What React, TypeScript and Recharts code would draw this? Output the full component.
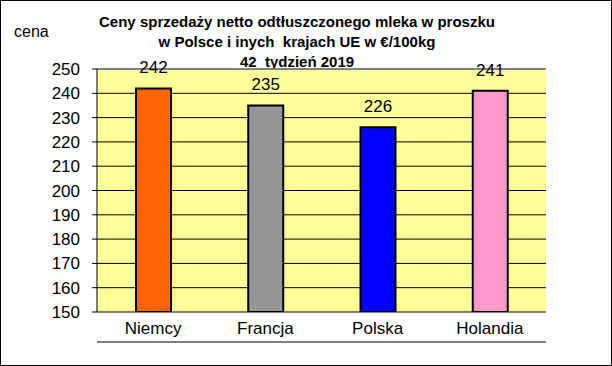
import React from 'react';
import {
    BarChart,
    Bar,
    XAxis,
    YAxis,
    CartesianGrid,
    Cell,
    LabelList,
    ReferenceLine
} from 'recharts';

const countries = ['Niemcy', 'Francja', 'Polska', 'Holandia'];
const prices = [242, 235, 226, 241];
const barColors = ['#FF6600', '#969696', '#0000FF', '#FF99CC'];
const yTicks = [150, 160, 170, 180, 190, 200, 210, 220, 230, 240, 250];
const edgeTicks = [0, 1, 2, 3, 4];

const titleLines = [
    'Ceny sprzedaży netto odtłuszczonego mleka w proszku',
    'w Polsce i inych  krajach UE w €/100kg',
    '42  tydzień 2019'
];

const data = countries.map((name, i) => ({ name, cena: prices[i] }));

const font = '"Liberation Sans", Arial, sans-serif';

export default function App() {
    return (
        <div
            style={{
                position: 'absolute',
                left: 0,
                top: 0,
                width: 612,
                height: 366,
                background: '#fff',
                border: '1px solid #000',
                boxSizing: 'border-box',
                fontFamily: font
            }}
        >
            {/* title */}
            {titleLines.map((line, i) => (
                <div
                    key={i}
                    style={{
                        position: 'absolute',
                        left: 96,
                        width: 400,
                        top: 11 + i * 20,
                        textAlign: 'center',
                        fontWeight: 'bold',
                        fontSize: 15,
                        lineHeight: '20px',
                        whiteSpace: 'pre',
                        color: '#000'
                    }}
                >
                    {line}
                </div>
            ))}
            <div style={{ position: 'absolute', left: 13, top: 22, fontSize: 16, color: '#000' }}>cena</div>

            <div style={{ position: 'absolute', left: -1, top: -1 }}>
                <BarChart
                    width={612}
                    height={366}
                    data={data}
                    margin={{ top: 69, right: 66, bottom: 18, left: 0 }}
                    barSize={35}
                >
                    <CartesianGrid vertical={false} stroke="#000" fill="#FFFF99" fillOpacity={1} />
                    <XAxis
                        xAxisId="edges"
                        type="number"
                        domain={[0, 4]}
                        ticks={edgeTicks}
                        tick={false}
                        tickSize={6}
                        height={6}
                        stroke="#000"
                        allowDataOverflow
                    />
                    <XAxis
                        dataKey="name"
                        axisLine={false}
                        tickLine={false}
                        tickSize={0}
                        tickMargin={10}
                        height={30}
                        interval={0}
                        tick={{ fill: '#000', fontSize: 17, fontFamily: font }}
                    />
                    <YAxis
                        domain={[150, 250]}
                        ticks={yTicks}
                        interval={0}
                        width={97}
                        tickSize={5}
                        tickMargin={12}
                        stroke="#000"
                        tick={{ fill: '#000', fontSize: 17, fontFamily: font }}
                        allowDataOverflow
                    />
                    <ReferenceLine y={250} stroke="#808080" strokeWidth={2} />
                    <ReferenceLine xAxisId="edges" x={4} stroke="#808080" strokeWidth={2} />
                    <Bar dataKey="cena" stroke="#000" strokeWidth={2} isAnimationActive={false}>
                        {data.map((d, i) => (
                            <Cell key={d.name} fill={barColors[i]} />
                        ))}
                        <LabelList
                            dataKey="cena"
                            position="top"
                            offset={15}
                            fill="#000"
                            fontSize={17}
                            fontFamily={font}
                        />
                    </Bar>
                </BarChart>
            </div>
        </div>
    );
}
